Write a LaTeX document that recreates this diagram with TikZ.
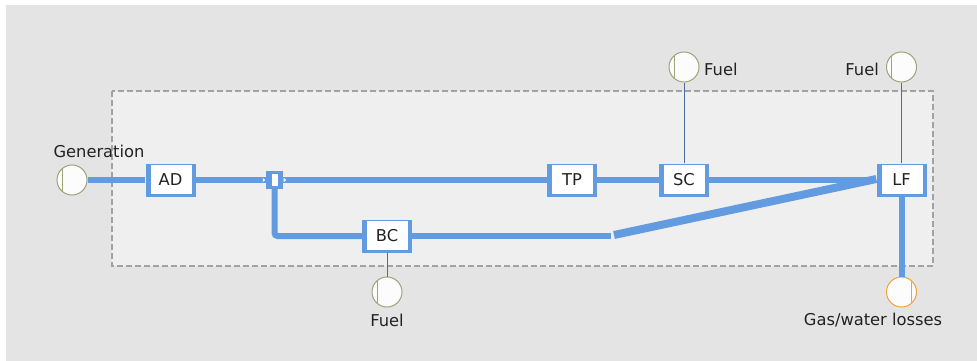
\documentclass[tikz,border=0pt]{standalone}
\usepackage{fontspec}
\setmainfont{DejaVu Sans}
\definecolor{flowblue}{HTML}{639BE1}
\definecolor{bgouter}{HTML}{E4E4E4}
\definecolor{bginner}{HTML}{EFEFEF}
\definecolor{dashgrey}{HTML}{A2A2A2}
\definecolor{srcgreen}{HTML}{9CA57A}
\definecolor{sinkorange}{HTML}{F2A33A}
\definecolor{fuelline}{HTML}{4F6C99}
\definecolor{txt}{HTML}{222222}
\begin{document}
\begin{tikzpicture}[x=1pt,y=-1pt,
  lbl/.style={font=\fontsize{16.3}{19}\selectfont, text=txt, inner sep=0pt},
  unitbox/.style={rectangle, fill=flowblue, minimum width=50pt, minimum height=33pt, inner sep=0pt,
    font=\fontsize{16.3}{19}\selectfont, text=txt,
    path picture={\fill[white] ([xshift=5pt,yshift=-1.5pt]path picture bounding box.north west) rectangle ([xshift=-4pt,yshift=3pt]path picture bounding box.south east);}},
  splitbox/.style={rectangle, fill=flowblue, minimum width=17pt, minimum height=18pt, inner sep=0pt,
    path picture={\fill[white] ([xshift=-3pt,yshift=6pt]path picture bounding box.center) rectangle ([xshift=3pt,yshift=-6pt]path picture bounding box.center);}},
  srcL/.style={circle, minimum size=30pt, inner sep=0pt, fill=white!99!black, draw=#1, line width=1pt,
    path picture={\draw[#1, line width=1pt] ([xshift=5pt]path picture bounding box.north west) -- ([xshift=5pt]path picture bounding box.south west);}},
  srcR/.style={circle, minimum size=30pt, inner sep=0pt, fill=white!99!black, draw=#1, line width=1pt,
    path picture={\draw[#1, line width=1pt] ([xshift=-5pt]path picture bounding box.north east) -- ([xshift=-5pt]path picture bounding box.south east);}},
  flow/.style={draw=flowblue, line width=6pt, line cap=butt},
  fuel/.style={draw=fuelline, line width=1pt}]
\useasboundingbox (0,0) rectangle (977,361);
\fill[white] (0,0) rectangle (977,361);
\fill[bgouter] (6,5) rectangle (977,361);
\draw[dashgrey, fill=bginner, line width=2pt, dash pattern=on 6pt off 3pt] (112,91) rectangle (933,266);

% nodes
\node[srcL=srcgreen] (gen) at (72,180) {};
\node[lbl] (genlbl) at (99,151) {Generation};
\node[unitbox] (AD) at (170.5,180) {AD};
\node[splitbox] (sp) at (274.5,180) {};
\node[unitbox] (TP) at (572,180) {TP};
\node[unitbox] (SC) at (684,180) {SC};
\node[unitbox] (LF) at (901.5,180) {LF};
\node[unitbox] (BC) at (387,236) {BC};
\node[srcL=srcgreen] (fsc) at (684,67) {};
\node[lbl, anchor=west] (fsclbl) at (704,69.5) {Fuel};
\node[srcL=srcgreen] (flf) at (901.5,67) {};
\node[lbl, anchor=east] (flflbl) at (879,69.5) {Fuel};
\node[srcL=srcgreen] (fbc) at (387,292) {};
\node[lbl] (fbclbl) at (387,320) {Fuel};
\node[srcR=sinkorange] (gas) at (901.5,292) {};
\node[lbl] (gaslbl) at (873,320) {Gas/water losses};

\coordinate (bcend) at (611,236);
\coordinate (diagstart) at (614,235);

% flows
\draw[flow] (gen.east) -- (AD.west);
\draw[flow] (AD.east) -- (sp.west);
\draw[flow] (sp.east) -- (TP.west);
\draw[flow] (TP.east) -- (SC.west);
\draw[flow] (SC.east) -- (LF.west);
\draw[flow, rounded corners=3pt] (sp.south) |- (BC.west);
\draw[flow] (BC.east) -- (bcend);
\draw[flow, line width=8pt] (diagstart) -- ([yshift=1pt]LF.west);
\draw[flow] (LF.south) -- (gas.north);
\draw[fuel] (SC.north) -- (fsc.south);
\draw[fuel] (LF.north) -- (flf.south);
\draw[fuel] (BC.south) -- (fbc.north);

% small direction marks at splitter
\fill[white] ([xshift=-3pt,yshift=-2pt]sp.west) -- ([xshift=-0.5pt]sp.west) -- ([xshift=-3pt,yshift=2pt]sp.west) -- cycle;
\fill[white] ([xshift=0.5pt,yshift=-2pt]sp.east) -- ([xshift=3pt]sp.east) -- ([xshift=0.5pt,yshift=2pt]sp.east) -- cycle;
\end{tikzpicture}
\end{document}
